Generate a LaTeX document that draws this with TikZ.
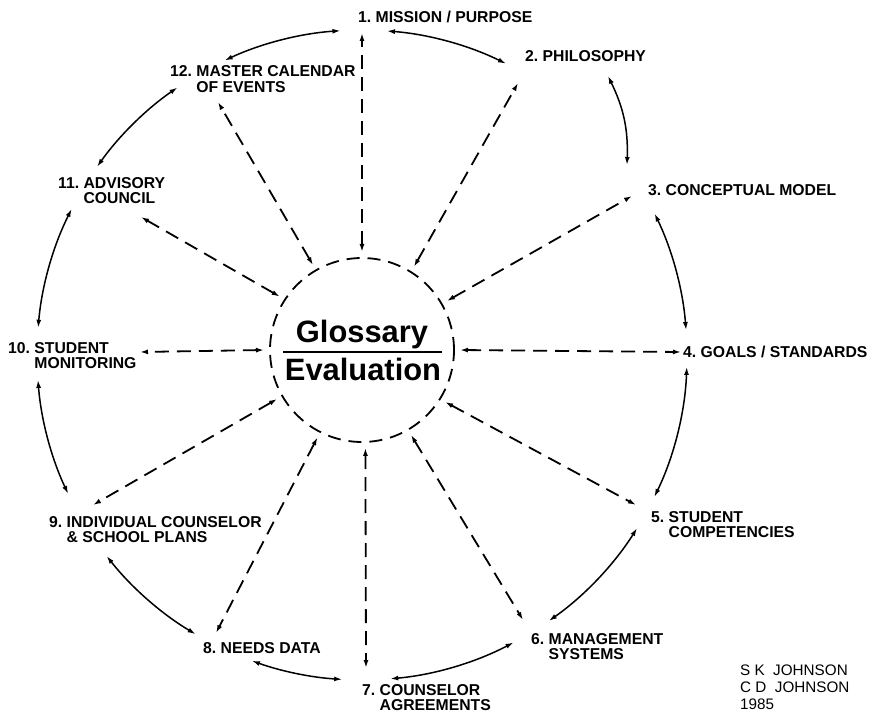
\documentclass[tikz,border=0pt]{standalone}
\usepackage{fontspec}
\setmainfont{Liberation Sans}
\usetikzlibrary{arrows.meta}
\begin{document}
\frenchspacing
\begin{tikzpicture}[x=1bp,y=1bp,
  lab/.style={font=\frenchspacing\bfseries\fontsize{15.8}{15.5}\selectfont, inner sep=0pt, anchor=base west},
  sig/.style={font=\frenchspacing\fontsize{15.3}{17.5}\selectfont, inner sep=0pt, anchor=base west},
  tipA/.tip={Latex[length=8bp,width=5bp]},
  spoke/.style={tipA-tipA, line width=1.8bp, dash pattern=on 14bp off 8bp},
  ring/.style={tipA-tipA, line width=1.5bp},
]
\useasboundingbox (0,0) rectangle (876,-714);
\newcommand\twol[2]{\begin{tabular}[t]{@{}l@{}}#1\\#2\end{tabular}}
% centre
\coordinate (C) at (362,-355);
\node[circle, draw, line width=1.8bp, dash pattern=on 13bp off 8bp, minimum size=184bp, outer sep=6bp, inner sep=0pt] (ctr) at (362,-350) {};
\node[font=\bfseries\fontsize{31}{31}\selectfont, inner sep=0pt, anchor=base] (glo) at (362,-342) {Glossary};
\node[font=\bfseries\fontsize{31}{31}\selectfont, inner sep=0pt, anchor=base] (eva) at (363,-380) {Evaluation};
\coordinate (rl) at (283,-352);
\coordinate (rr) at (442,-352);
\draw[line width=2bp] (rl) -- (rr);
% labels
\node[lab] (l1) at (358,-23) {1. MISSION / PURPOSE};
\node[lab] (l2) at (525,-62) {2. PHILOSOPHY};
\node[lab] (l3) at (648,-195) {3. CONCEPTUAL MODEL};
\node[lab] (l4) at (683,-357) {4. GOALS / STANDARDS};
\node[lab] (l5) at (651,-522) {\twol{5. STUDENT}{\hphantom{5.}\ COMPETENCIES}};
\node[lab] (l6) at (531,-644) {\twol{6. MANAGEMENT}{\hphantom{6.}\ SYSTEMS}};
\node[lab] (l7) at (362,-695) {\twol{7. COUNSELOR}{\hphantom{7.}\ AGREEMENTS}};
\node[lab] (l8) at (203,-653) {8. NEEDS DATA};
\node[lab] (l9) at (49,-527) {\twol{9. INDIVIDUAL COUNSELOR}{\hphantom{9.}\ \& SCHOOL PLANS}};
\node[lab] (l10) at (8,-353) {\twol{10. STUDENT}{\hphantom{10.}\ MONITORING}};
\node[lab] (l11) at (58,-188) {\twol{11. ADVISORY}{\hphantom{11.}\ COUNCIL}};
\node[lab] (l12) at (170,-77) {\twol{12. MASTER CALENDAR}{\hphantom{12.}\ OF EVENTS}};
\node[sig] (sg) at (740,-675) {\begin{tabular}[t]{@{}l@{}}S K\ \ JOHNSON\\C D\ \ JOHNSON\\1985\end{tabular}};
% spoke outer ends
\coordinate (t1) at (362,-33);
\coordinate (t2) at (518,-83);
\coordinate (t3) at (632,-196);
\coordinate (t4) at (681,-352);
\coordinate (t5) at (636,-505);
\coordinate (t6) at (523,-620);
\coordinate (t7) at (366,-668);
\coordinate (t8) at (216,-633);
\coordinate (t9) at (93,-505);
\coordinate (t10) at (140,-352);
\coordinate (t11) at (141,-217);
\coordinate (t12) at (218,-102);
\draw[spoke] (ctr.90) -- (t1);
\draw[spoke] (ctr.58) -- (t2);
\draw[spoke] (ctr.30) -- (t3);
\draw[spoke] (ctr.0) -- (t4);
\draw[spoke] (ctr.-32) -- (t5);
\draw[spoke] (ctr.-60) -- (t6);
\draw[spoke] (ctr.-88) -- (t7);
\draw[spoke] (ctr.-117) -- (t8);
\draw[spoke] (ctr.-150) -- (t9);
\draw[spoke] (ctr.180) -- (t10);
\draw[spoke] (ctr.147) -- (t11);
\draw[spoke] (ctr.120) -- (t12);
% ring arcs
\foreach \a/\b in {115/93.8, 85.6/63.7, 25.8/4.4, -2.1/-25.9, -32.2/-54.9, -62.2/-85, -93.5/-109.8, -120.8/-141.8, -175.6/-154.7, 175.2/153.3, 144.6/124.6}
  \draw[ring] ([shift={(\a:325bp)}]C) arc[start angle=\a, end angle=\b, radius=325bp];
\coordinate (r2a) at (608,-76);
\coordinate (r2b) at (627,-165);
\draw[ring] (r2a) to[bend left=14] (r2b);
\end{tikzpicture}
\end{document}
